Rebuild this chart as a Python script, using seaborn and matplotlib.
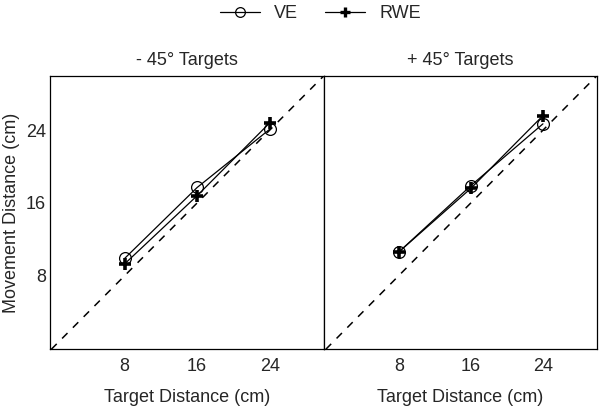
import pandas as pd
import matplotlib.pyplot as plt
import matplotlib.lines as mlines
import seaborn as sns
import numpy as np

sns.set_style('white')
plt.rcParams['font.family'] = ['Liberation Sans', 'DejaVu Sans']

# Data
targets = [8, 16, 24]
panels = ['- 45° Targets', '+ 45° Targets']
ve_minus = [9.9, 17.7, 24.1]
rwe_minus = [9.3, 16.8, 24.8]
ve_plus = [10.6, 17.9, 24.7]
rwe_plus = [10.6, 17.6, 25.6]
ticks = [8, 16, 24]

series = {
    panels[0]: {'VE': ve_minus, 'RWE': rwe_minus},
    panels[1]: {'VE': ve_plus, 'RWE': rwe_plus},
}

styles = {
    'VE': dict(marker='o', markersize=8.5, markerfacecolor='none', markeredgecolor='black', markeredgewidth=0.9),
    'RWE': dict(marker='+', markersize=8.5, markeredgecolor='black', markeredgewidth=2.6),
}

fig = plt.figure(figsize=(6, 4.09), dpi=100)
ax1 = fig.add_axes([0.0825, 0.146, 0.4575, 0.669])
ax2 = fig.add_axes([0.54, 0.146, 0.455, 0.669])

for ax, panel in zip([ax1, ax2], panels):
    ax.axline((0, 0), slope=1, color='black', lw=1.1, ls=(0, (5, 5)))
    for name in ['VE', 'RWE']:
        df = pd.DataFrame({'target': targets, 'movement': series[panel][name]})
        sns.lineplot(data=df, x='target', y='movement', ax=ax, color='black',
                     lw=0.9, **styles[name])
    ax.set_xlim(-0.3, 30.0)
    ax.set_ylim(-0.1, 30)
    ax.set_xticks(ticks)
    ax.set_yticks(ticks)
    ax.set_title(panel, fontsize=13, pad=8)
    ax.set_xlabel('Target Distance (cm)', fontsize=13, labelpad=9.5)
    ax.set_ylabel('')
    for s in ax.spines.values():
        s.set_color('black')
        s.set_linewidth(0.9)
    ax.tick_params(axis='x', direction='in', length=4, width=0.9, labelsize=13, pad=6.5, color='black')
    ax.tick_params(axis='y', direction='in', length=4, width=0.9, labelsize=13, pad=2.5, color='black')

ax1.set_ylabel('Movement Distance (cm)', fontsize=13)
ax1.yaxis.set_label_coords(-0.108, 0.5)
ax2.tick_params(axis='y', labelleft=False)

handles = [
    mlines.Line2D([], [], color='black', lw=0.9, marker='o', markersize=7,
                  markerfacecolor='none', markeredgecolor='black', markeredgewidth=0.9),
    mlines.Line2D([], [], color='black', lw=0.9, marker='+', markersize=7,
                  markeredgecolor='black', markeredgewidth=2.4),
]
fig.legend(handles, ['VE', 'RWE'], loc='upper center', bbox_to_anchor=(0.534, 1.027),
           ncol=2, frameon=False, fontsize=13, handlelength=2.2, columnspacing=1.5,
           handletextpad=0.8)

fig.savefig('out.png', dpi=100)
